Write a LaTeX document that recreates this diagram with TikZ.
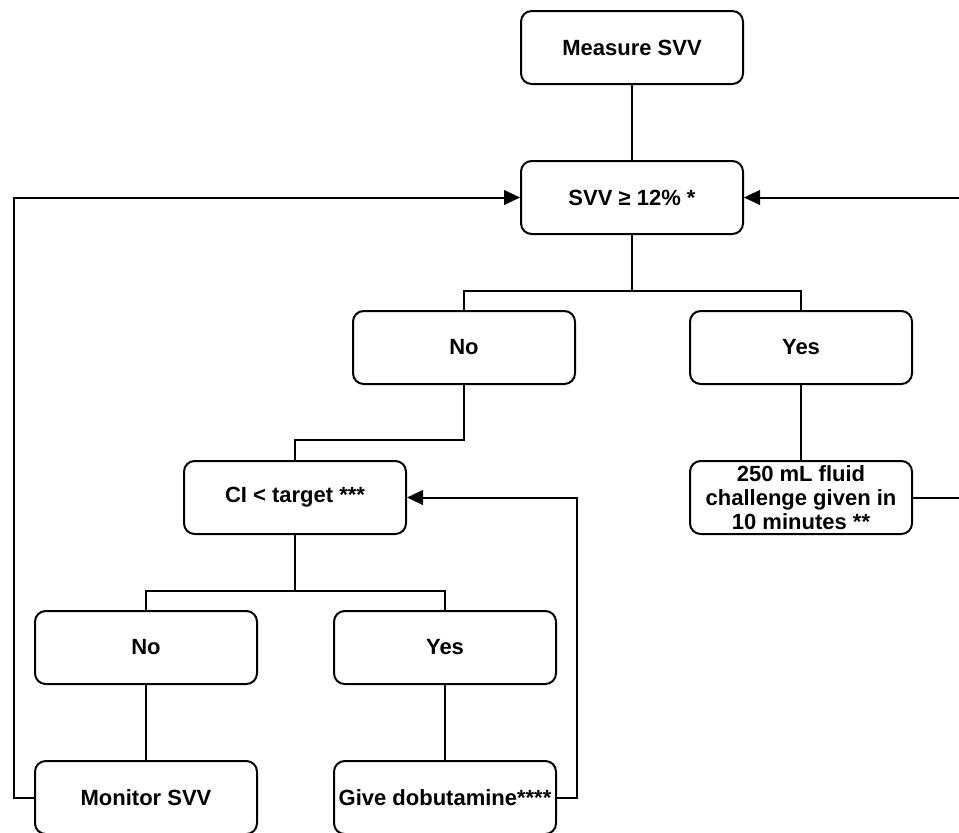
\documentclass[tikz,border=0pt]{standalone}
\usepackage{fontspec}
\setmainfont{Liberation Sans}
\usetikzlibrary{arrows.meta}
\begin{document}
\begin{tikzpicture}[x=0.75pt,y=-0.75pt,
  box/.style={draw, line width=1.5pt, rounded corners=8pt, minimum width=166.5pt, minimum height=54.75pt,
    inner sep=0pt, font=\fontsize{16.5}{17.8}\selectfont\bfseries, align=center, fill=white},
  link/.style={line width=1.5pt},
  arr/.style={link, -{Triangle[length=12pt,width=11pt]}}]
\useasboundingbox (0,0) rectangle (959,832);
\clip (0,0) rectangle (959,832);
\node[box] (m) at (632,47.5) {Measure SVV};
\node[box] (s) at (632,197.5) {SVV ≥ 12\% *};
\node[box] (n1) at (464,347.5) {No};
\node[box] (y1) at (801,347.5) {Yes};
\node[box] (ci) at (295,497.5) {CI < target ***};
\node[box] (fl) at (801,497.5) {250 mL fluid\\challenge given in\\10 minutes **};
\node[box] (n2) at (146,647.5) {No};
\node[box] (y2) at (445,647.5) {Yes};
\node[box] (mo) at (146,797.5) {Monitor SVV};
\node[box] (gd) at (445,797.5) {Give dobutamine****};
\draw[link] (m) -- (s);
\draw[link] (s.south) -- +(0,56) -| (n1.north);
\draw[link] (s.south) -- +(0,56) -| (y1.north);
\draw[link] (n1.south) -- +(0,55) -| (ci.north);
\draw[link] (y1) -- (fl);
\draw[link] (ci.south) -- +(0,56) -| (n2.north);
\draw[link] (ci.south) -- +(0,56) -| (y2.north);
\draw[link] (n2) -- (mo);
\draw[link] (y2) -- (gd);
\draw[arr] (mo.west) -- (14,797.5) |- (s.west);
\draw[arr] (fl.east) -- (970,497.5) |- (s.east);
\draw[arr] (gd.east) -- (577,797.5) |- (ci.east);
\end{tikzpicture}
\end{document}
